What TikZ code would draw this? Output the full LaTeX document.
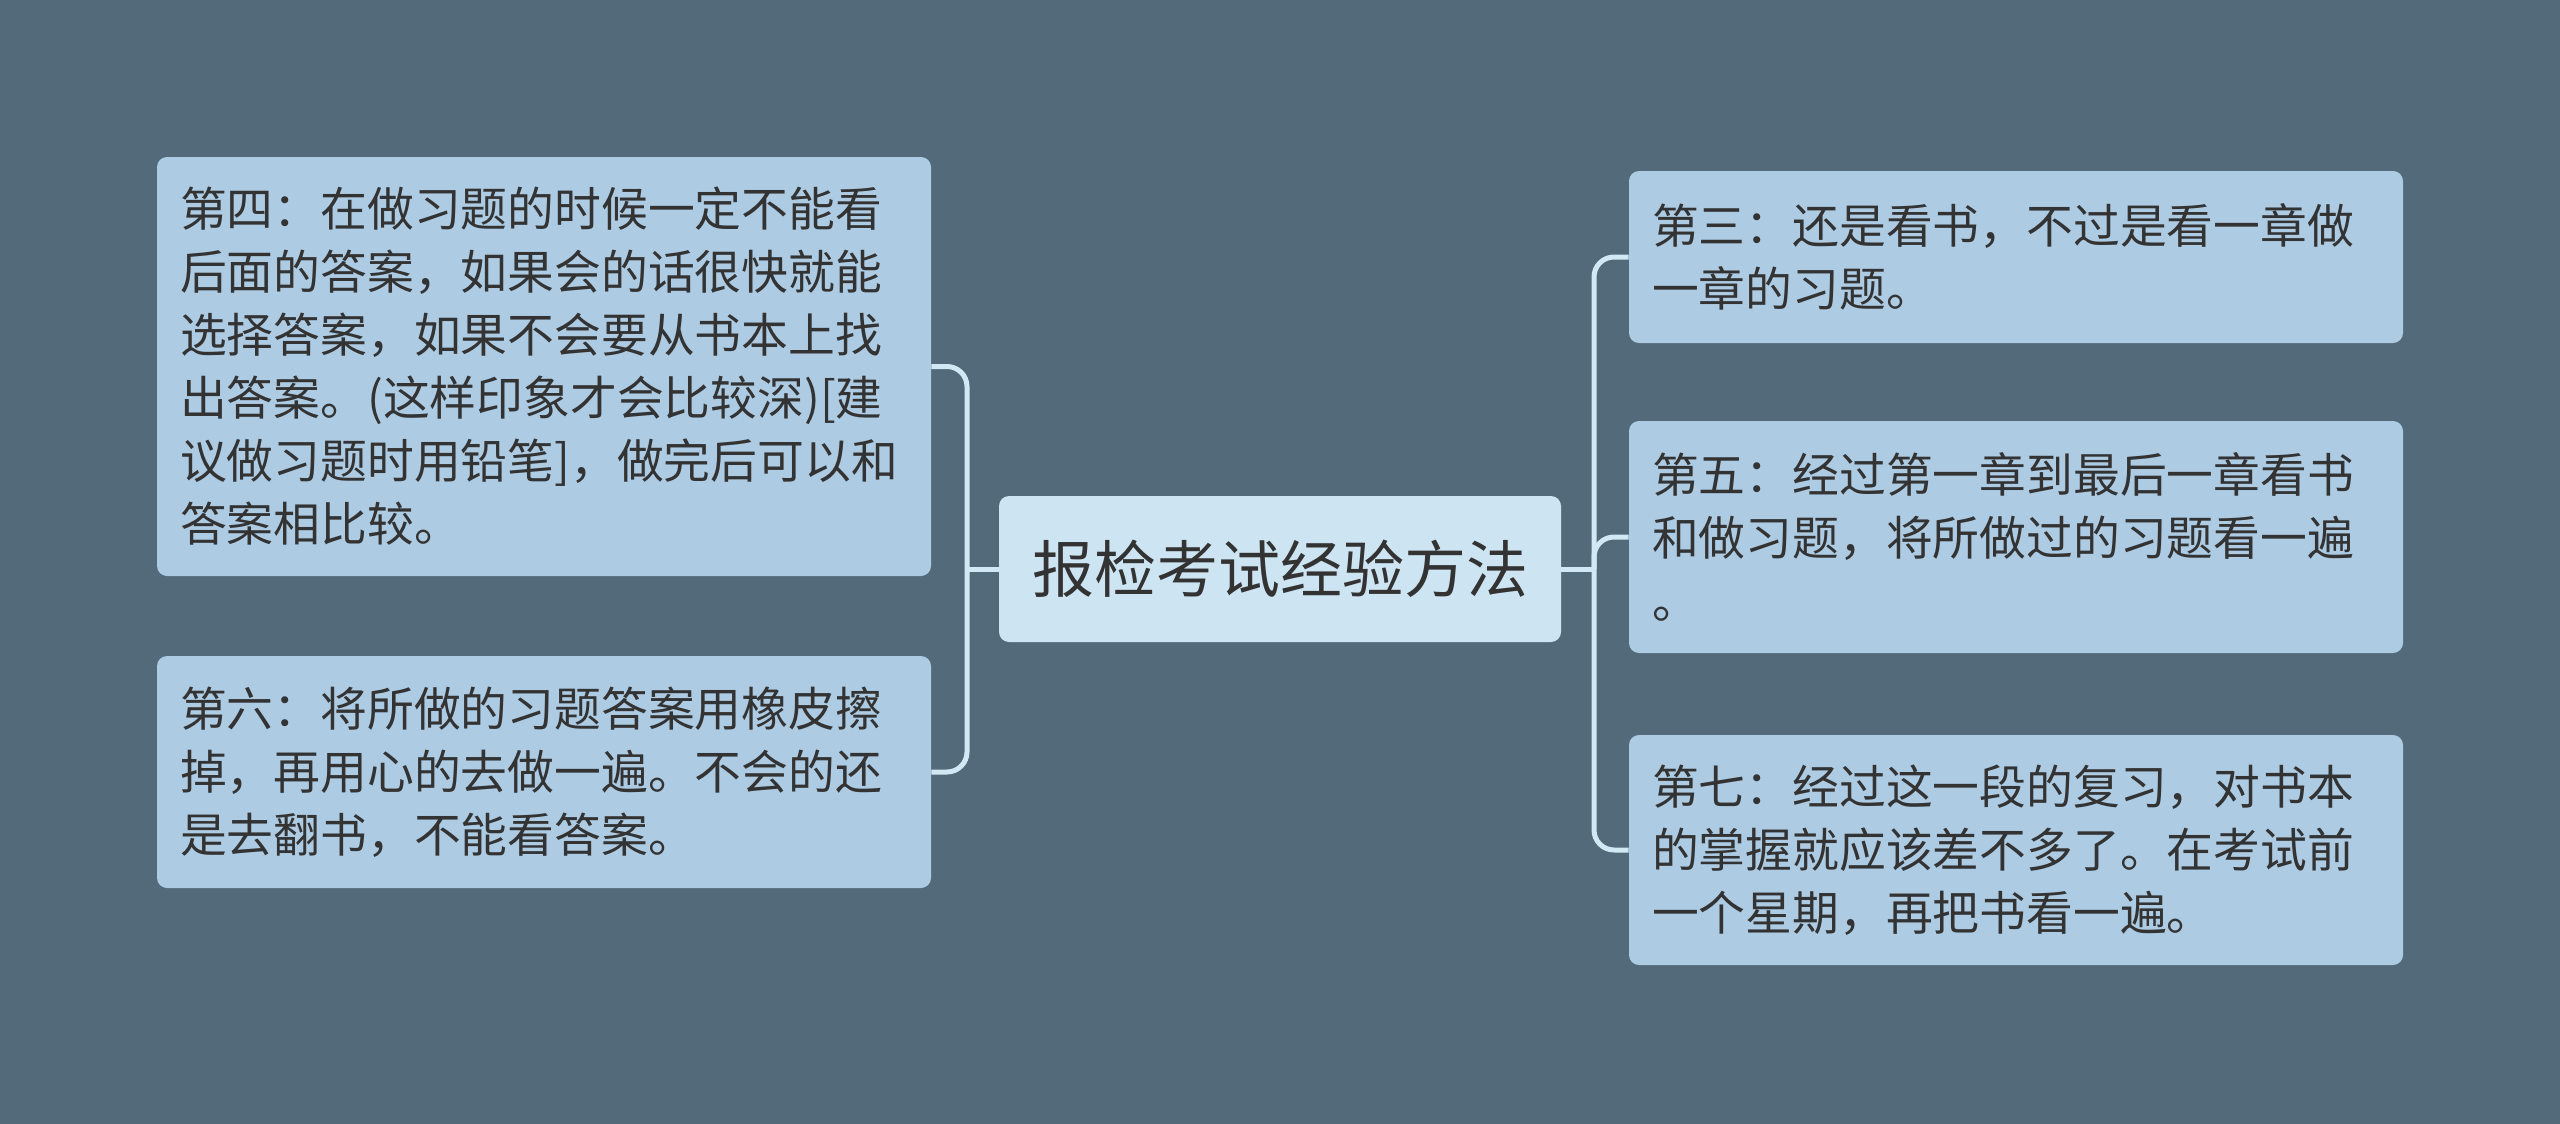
\documentclass[tikz,border=0pt]{standalone}
\usepackage{fontspec}
\newfontfamily\cjk{Noto Sans CJK SC}
\definecolor{bgc}{HTML}{536A7A}
\definecolor{boxc}{HTML}{ADCBE3}
\definecolor{rootc}{HTML}{CDE5F2}
\definecolor{linec}{HTML}{D2E8F4}
\definecolor{txtc}{HTML}{333333}
\tikzset{
  leafbox/.style={fill=boxc, rounded corners=5pt, text=txtc, align=left,
    text width=364pt, inner xsep=11.5pt, inner ysep=0pt, minimum width=387pt,
    font=\cjk\fontsize{23.4pt}{31.5pt}\selectfont},
  rootbox/.style={fill=rootc, rounded corners=5pt, text=txtc, align=center,
    minimum width=281pt, minimum height=73pt, inner sep=0pt,
    font=\cjk\fontsize{31pt}{38pt}\selectfont},
  conn/.style={draw=linec, line width=2.5pt, rounded corners=10pt}
}
\begin{document}
\begin{tikzpicture}[x=0.5pt,y=-0.5pt]
\fill[bgc] (0,0) rectangle (2560,1124);
\useasboundingbox (0,0) rectangle (2560,1124);
\node[rootbox] (root) at (1280,569) {报检考试经验方法};
\node[leafbox, minimum height=209.5pt] (lt) at (544,366.5) {第四：在做习题的时候一定不能看\\后面的答案，如果会的话很快就能\\选择答案，如果不会要从书本上找\\出答案。(这样印象才会比较深)[建\\议做习题时用铅笔]，做完后可以和\\答案相比较。};
\node[leafbox, minimum height=116pt] (lb) at (544,772) {第六：将所做的习题答案用橡皮擦\\掉，再用心的去做一遍。不会的还\\是去翻书，不能看答案。};
\node[leafbox, minimum height=86pt] (rt) at (2016,257) {第三：还是看书，不过是看一章做\\一章的习题。};
\node[leafbox, minimum height=116pt] (rm) at (2016,537) {第五：经过第一章到最后一章看书\\和做习题，将所做过的习题看一遍\\。};
\node[leafbox, minimum height=115pt] (rb) at (2016,850) {第七：经过这一段的复习，对书本\\的掌握就应该差不多了。在考试前\\一个星期，再把书看一遍。};
\coordinate (cL) at (967,569);
\coordinate (cR) at (1594,569);
\draw[conn] (root.west) -- (cL);
\draw[conn] (lt.east) -| (cL) |- (lb.east);
\draw[conn] (root.east) -- (cR);
\draw[conn] (rt.west) -| (cR) |- (rb.west);
\draw[conn] (cR) |- (rm.west);
\end{tikzpicture}
\end{document}
